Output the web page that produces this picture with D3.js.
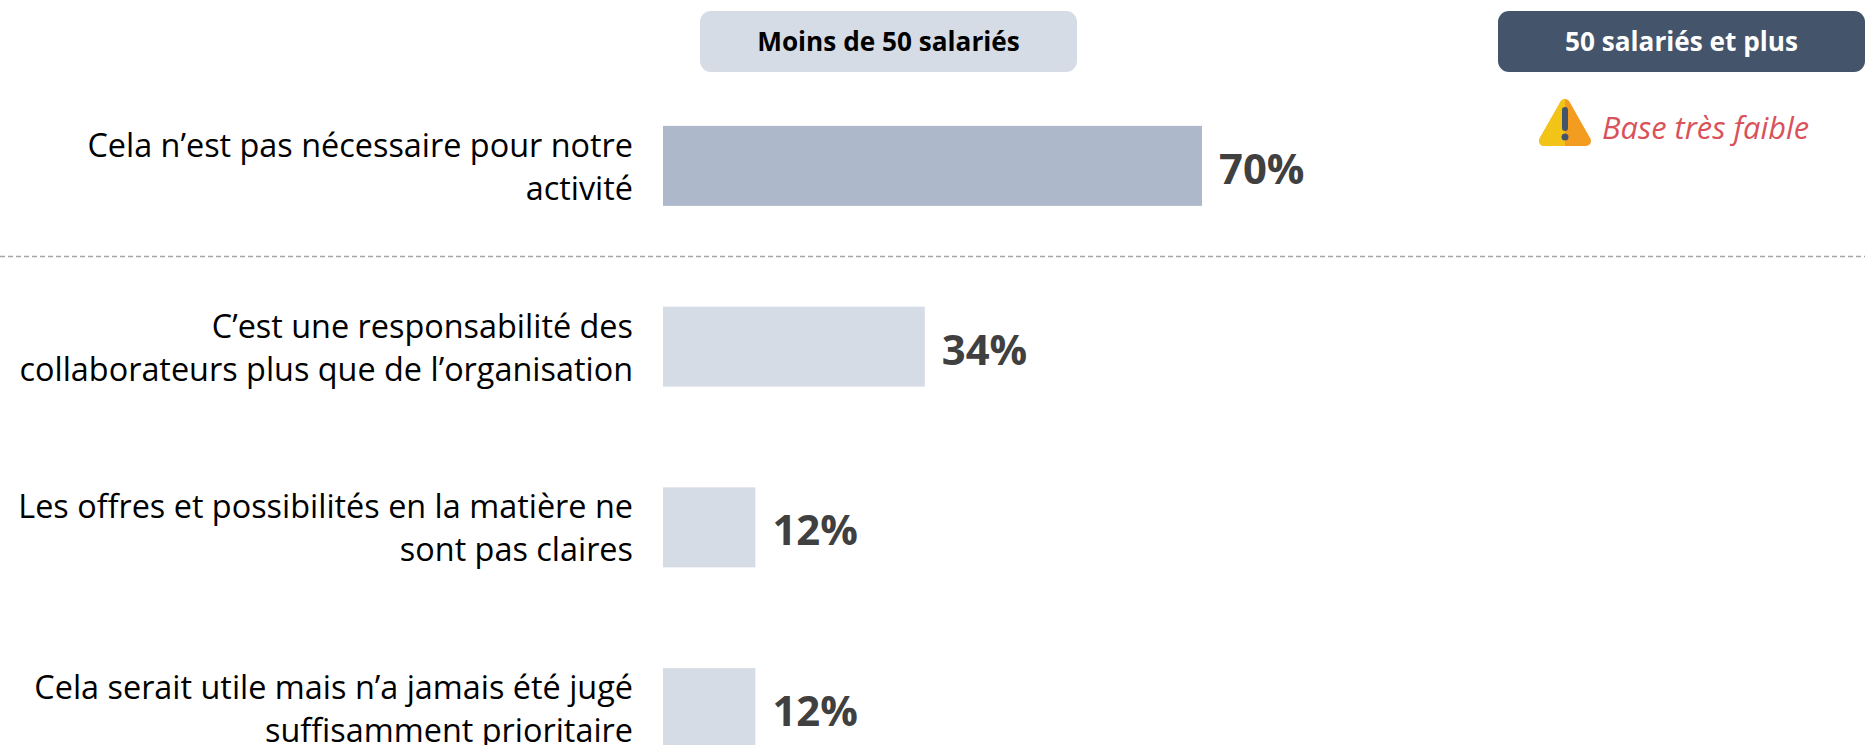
<!DOCTYPE html>
<html>
<head>
<meta charset="utf-8">
<title>Moins de 50 salariés</title>
<style>
    html, body { margin:0; padding:0; background:#fff; overflow:hidden; }
    svg { display:block; }
    text { font-family:"Open Sans", "Noto Sans", sans-serif; }
    .label { font-size:32.4px; fill:#000; }
    .value { font-size:41.8px; font-weight:700; fill:#404040; }
    .pill { font-size:26.2px; font-weight:700; }
</style>
</head>
<body>
<svg></svg>
<script src="https://d3js.org/d3.v7.min.js"></script>
<script>
    const categories = [
        ["Cela n’est pas nécessaire pour notre", "activité"],
        ["C’est une responsabilité des", "collaborateurs plus que de l’organisation"],
        ["Les offres et possibilités en la matière ne", "sont pas claires"],
        ["Cela serait utile mais n’a jamais été jugé", "suffisamment prioritaire"]
    ];
    const values = [70, 34, 12, 12];
    const groups = ["Moins de 50 salariés", "50 salariés et plus"];
    const warning = "Base très faible";

    const width = 1865;
    const height = 745;
    const barLeft = 663;

    const svg = d3.select("svg")
        .attr("width", width)
        .attr("height", height);

    const x = d3.scaleLinear()
        .domain([0, 100])
        .range([barLeft, barLeft + 770]);

    // band step is ~181px, bars 80px high
    const y = d3.scaleBand()
        .domain(d3.range(values.length))
        .range([75.5, 798.5])
        .paddingInner(0.5575)
        .paddingOuter(0.2788);

    // header pills
    const pills = [
        {name: groups[0], x: 700, w: 377, fill: "#d6dce5", color: "#000"},
        {name: groups[1], x: 1498, w: 367, fill: "#44546a", color: "#fff"}
    ];
    svg.selectAll("rect.head")
        .data(pills)
        .join("rect")
        .attr("class", "head")
        .attr("x", d => d.x)
        .attr("y", 11)
        .attr("width", d => d.w)
        .attr("height", 61)
        .attr("rx", 11)
        .attr("fill", d => d.fill);
    svg.selectAll("text.pill")
        .data(pills)
        .join("text")
        .attr("class", "pill")
        .attr("x", d => d.x + d.w / 2)
        .attr("y", 51)
        .attr("text-anchor", "middle")
        .attr("fill", d => d.color)
        .text(d => d.name);

    // separator under the first bar
    svg.append("line")
        .attr("x1", 0)
        .attr("x2", width)
        .attr("y1", 256.5)
        .attr("y2", 256.5)
        .attr("stroke", "#a6a6a6")
        .attr("stroke-width", 1.3)
        .attr("stroke-dasharray", "5 3");

    svg.selectAll("rect.bar")
        .data(values)
        .join("rect")
        .attr("class", "bar")
        .attr("x", x(0))
        .attr("y", (d, i) => y(i))
        .attr("width", d => x(d) - x(0))
        .attr("height", y.bandwidth())
        .attr("fill", (d, i) => i == 0 ? "#adb9ca" : "#d6dce5");

    svg.selectAll("text.value")
        .data(values)
        .join("text")
        .attr("class", "value")
        .attr("x", d => x(d) + 17)
        .attr("y", (d, i) => y(i) + y.bandwidth() / 2 + 18)
        .text(d => d + "%");

    const labels = svg.selectAll("g.label")
        .data(categories)
        .join("g")
        .attr("class", "label")
        .attr("transform", (d, i) => `translate(633,${y(i) + y.bandwidth() / 2})`);
    labels.selectAll("text")
        .data(d => d)
        .join("text")
        .attr("class", "label")
        .attr("text-anchor", "end")
        .attr("y", (d, i) => i == 0 ? -9 : 34)
        .text(d => d);

    // warning icon
    const icon = svg.append("g").attr("transform", "translate(1565,0)");
    const tri = "M0,104 L-21,141 L21,141 Z";
    const defs = svg.append("defs");
    defs.append("clipPath").attr("id", "leftHalf")
        .append("rect").attr("x", -30).attr("y", 90).attr("width", 30).attr("height", 60);
    icon.append("path").attr("d", tri)
        .attr("fill", "#f39c1f").attr("stroke", "#f39c1f")
        .attr("stroke-width", 10).attr("stroke-linejoin", "round");
    icon.append("path").attr("d", tri)
        .attr("clip-path", "url(#leftHalf)")
        .attr("fill", "#f2c417").attr("stroke", "#f2c417")
        .attr("stroke-width", 10).attr("stroke-linejoin", "round");
    icon.append("line")
        .attr("x1", 0).attr("x2", 0).attr("y1", 110).attr("y2", 128)
        .attr("stroke", "#44546a").attr("stroke-width", 6).attr("stroke-linecap", "round");
    icon.append("circle").attr("cx", 0).attr("cy", 137).attr("r", 3.5).attr("fill", "#44546a");

    svg.append("text")
        .attr("x", 1602)
        .attr("y", 139)
        .attr("font-size", 30.8)
        .attr("font-style", "italic")
        .attr("fill", "#d9525a")
        .text(warning);
</script>
</body>
</html>
